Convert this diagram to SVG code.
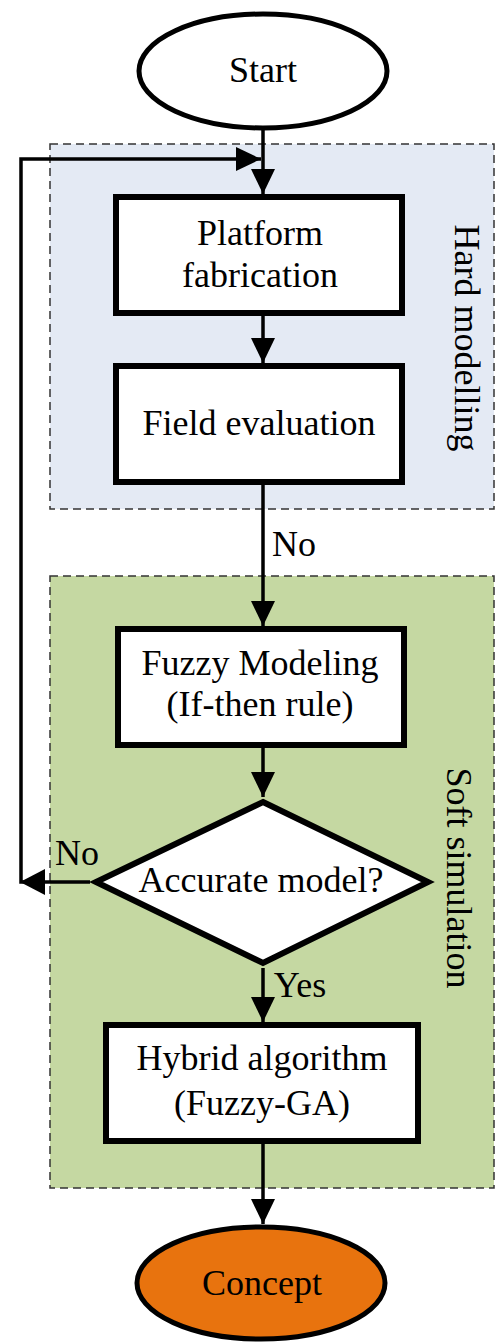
<svg xmlns="http://www.w3.org/2000/svg" width="497" height="1342" viewBox="0 0 497 1342">
<defs>
<style>
.lbl{font-family:"Liberation Serif","Times New Roman",serif;font-size:36px;fill:#000;text-anchor:middle}
.sm{font-size:34px}
.box{fill:#fff;stroke:#000;stroke-width:6}
.group{stroke:#333;stroke-width:1.5;stroke-dasharray:8 5}
.conn{fill:none;stroke:#000;stroke-width:3.5}
</style>
<marker id="ah" markerUnits="userSpaceOnUse" markerWidth="26" markerHeight="24" refX="25" refY="12" orient="auto">
<path d="M0,0 L25,12 L0,24 z" fill="#000"/>
</marker>
</defs>
<rect width="497" height="1342" fill="#fff"/>

<g id="hard-modelling">
<rect class="group" x="50" y="144" width="444" height="365" fill="#e4eaf4"/>
<text class="lbl" transform="translate(455,338) rotate(90)">Hard modelling</text>
</g>
<g id="soft-simulation">
<rect class="group" x="50" y="576" width="444" height="612" fill="#c5d8a2"/>
<text class="lbl" transform="translate(447,878) rotate(90)">Soft simulation</text>
</g>

<g id="connectors">
<line class="conn" x1="263" y1="130" x2="263" y2="194" marker-end="url(#ah)"/>
<polyline class="conn" points="90,882 21,882 21,159 261,159" marker-end="url(#ah)"/>
<line class="conn" x1="263" y1="316" x2="263" y2="363" marker-end="url(#ah)"/>
<line class="conn" x1="263" y1="485" x2="263" y2="626" marker-end="url(#ah)"/>
<line class="conn" x1="263" y1="748" x2="263" y2="797" marker-end="url(#ah)"/>
<line class="conn" x1="263" y1="968" x2="263" y2="1022" marker-end="url(#ah)"/>
<line class="conn" x1="263" y1="1144" x2="263" y2="1224" marker-end="url(#ah)"/>
<path d="M20,882 L45,869 L45,895 z" fill="#000"/>
<text class="lbl" x="294" y="556">No</text>
<text class="lbl" x="77" y="865">No</text>
<text class="lbl" x="300" y="997">Yes</text>
</g>

<g id="start">
<ellipse cx="263" cy="71" rx="124" ry="57" fill="#fff" stroke="#000" stroke-width="5"/>
<text class="lbl" x="263" y="82">Start</text>
</g>

<g id="platform">
<rect class="box" x="116" y="197" width="286" height="116"/>
<text class="lbl" x="260" y="245">Platform</text>
<text class="lbl" x="260" y="287">fabrication</text>
</g>

<g id="field">
<rect class="box" x="116" y="366" width="286" height="116"/>
<text class="lbl" x="259" y="435">Field evaluation</text>
</g>

<g id="fuzzy">
<rect class="box" x="118" y="629" width="286" height="116"/>
<text class="lbl" x="260" y="675">Fuzzy Modeling</text>
<text class="lbl" x="260" y="716">(If-then rule)</text>
</g>

<g id="decision">
<polygon points="263,802 428,882 263,963 96,882" fill="#fff" stroke="#000" stroke-width="6"/>
<text class="lbl" x="261" y="892">Accurate model?</text>
</g>

<g id="hybrid">
<rect class="box" x="106" y="1025" width="312" height="116"/>
<text class="lbl" x="262" y="1070">Hybrid algorithm</text>
<text class="lbl" x="262" y="1115">(Fuzzy-GA)</text>
</g>

<g id="concept">
<ellipse cx="261" cy="1283" rx="124" ry="56" fill="#e8730e" stroke="#000" stroke-width="5"/>
<text class="lbl" x="262" y="1295">Concept</text>
</g>
</svg>
